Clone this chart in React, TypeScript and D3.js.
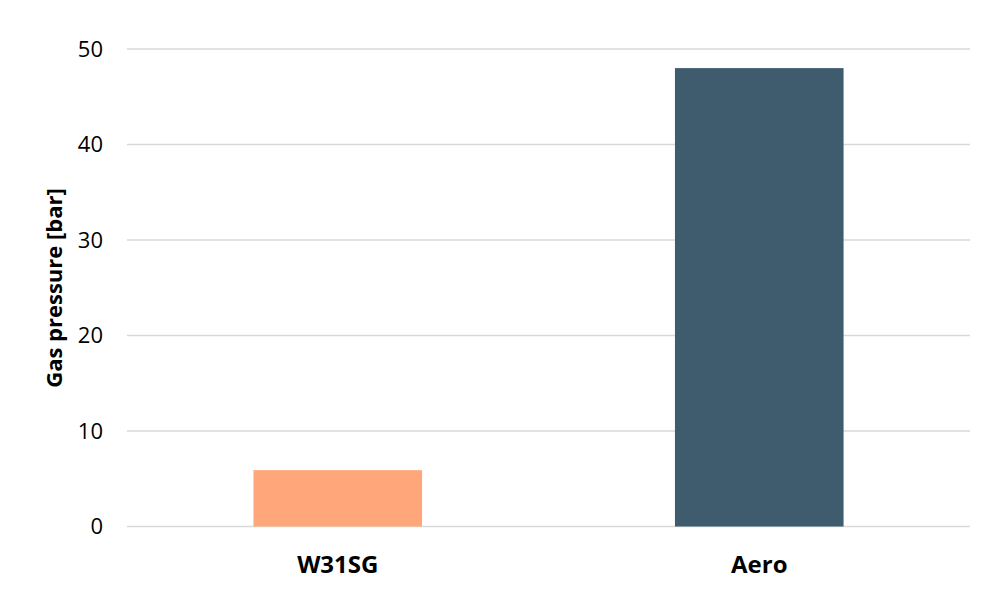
import React from "react";
import * as d3 from "d3";

const categories = ["W31SG", "Aero"];
const pressures = [5.9, 48];
const barColors = ["#FFA77A", "#3F5B6E"];
const yTicks = [0, 10, 20, 30, 40, 50];

const width = 1000;
const height = 598;
const margin = { top: 49, right: 30, bottom: 71, left: 127 };

export default function App() {
  const x = d3
    .scaleBand()
    .domain(categories)
    .range([margin.left, width - margin.right])
    .paddingInner(0.6)
    .paddingOuter(0.3);

  const y = d3
    .scaleLinear()
    .domain([0, 50])
    .range([height - margin.bottom - 0.5, margin.top]);

  const font = "'Open Sans', sans-serif";

  return (
    <svg
      width={width}
      height={height}
      style={{ position: "absolute", left: 0, top: 0, background: "#fff" }}
    >
      {yTicks.map((t) => (
        <g key={t}>
          <line
            x1={margin.left}
            x2={width - margin.right}
            y1={y(t)}
            y2={y(t)}
            stroke="#d9d9d9"
            strokeWidth={1.5}
          />
          <text
            x={margin.left - 24}
            y={y(t)}
            dy="0.35em"
            textAnchor="end"
            fontFamily={font}
            fontSize={22}
            fill="#000"
          >
            {t}
          </text>
        </g>
      ))}
      {categories.map((c, i) => (
        <rect
          key={c}
          x={x(c)}
          width={x.bandwidth()}
          y={y(pressures[i])}
          height={y(0) - y(pressures[i])}
          fill={barColors[i]}
        />
      ))}
      {categories.map((c) => (
        <text
          key={c}
          x={(x(c) ?? 0) + x.bandwidth() / 2}
          y={565}
          dy="0.35em"
          textAnchor="middle"
          fontFamily={font}
          fontWeight="bold"
          fontSize={24}
          fill="#000"
        >
          {c}
        </text>
      ))}
      <text
        transform={`translate(54, ${(margin.top + height - margin.bottom) / 2}) rotate(-90)`}
        textAnchor="middle"
        dy="0.35em"
        fontFamily={font}
        fontWeight="bold"
        fontSize={22}
        fill="#000"
      >
        Gas pressure [bar]
      </text>
    </svg>
  );
}
